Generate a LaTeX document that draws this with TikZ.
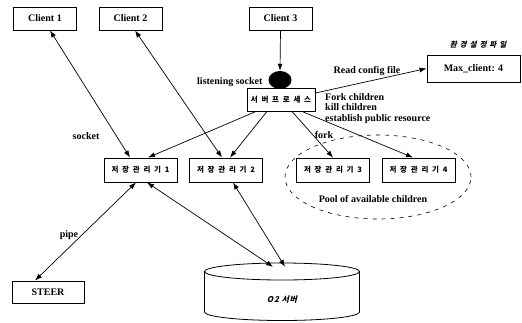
\documentclass[tikz,border=0pt]{standalone}
\usepackage{fontspec}
\setmainfont{Liberation Serif}
\newfontfamily\krfont{Noto Sans CJK KR}[LetterSpace=50]
\newfontfamily\krslant{Noto Sans CJK KR}[LetterSpace=40,FakeSlant=0.25]
\newfontfamily\krtight{Noto Sans CJK KR}[LetterSpace=10,FakeSlant=0.25]
\usetikzlibrary{arrows.meta,shapes.geometric}

\tikzset{
  box/.style={draw, line width=0.9pt, inner sep=0pt},
  client/.style={box, minimum width=63pt, minimum height=23pt},
  mgr/.style={box, minimum width=73pt, minimum height=24pt, font=\krfont\bfseries\fontsize{7.5}{8}\selectfont},
  link/.style={line width=0.7pt}
}

\begin{document}
\begin{tikzpicture}[x=1pt, y=-1pt, >={Latex[length=7pt,width=5pt]}, font=\bfseries\fontsize{10}{10.5}\selectfont]
        \useasboundingbox (0,0) rectangle (522,322);

        \node[client] (client1) at (45,18.5) {Client 1};
        \node[client] (client2) at (130.5,18.5) {Client 2};
        \node[client] (client3) at (280.5,18.5) {Client 3};

        \node[box, minimum width=68pt, minimum height=23pt, font=\krfont\bfseries\fontsize{7.5}{8}\selectfont] (server) at (281,99.5) {서버프로세스};
        \node[fill=black, ellipse, minimum width=23pt, minimum height=18pt, inner sep=0pt] (socket) at (280,80) {};

        \node[box, minimum width=93pt, minimum height=27pt] (maxclient) at (473.5,68.5) {Max\_client: 4};
        \node[font=\krslant\bfseries\fontsize{7.5}{8}\selectfont] (cfgfile) at (478,45) {환경설정파일};

        \node[mgr] (mgr1) at (140.5,170) {저장관리기1};
        \node[mgr] (mgr2) at (226,170) {저장관리기2};
        \node[mgr] (mgr3) at (333,170) {저장관리기3};
        \node[mgr] (mgr4) at (418.5,170) {저장관리기4};

        \node[box, minimum width=72pt, minimum height=22pt] (steer) at (48,292) {STEER};

        % O2 server drum
        \node[minimum width=155pt, minimum height=58pt, inner sep=0pt] (o2) at (282,292) {};
        \draw[line width=0.8pt] (282,271.5) ellipse (77.5pt and 8.5pt);
        \draw[line width=0.8pt] (204.5,271.5) -- (204.5,312) arc[start angle=180, end angle=360, x radius=77.5pt, y radius=8.5pt] -- (359.5,271.5);
        \node[font=\krtight\bfseries\fontsize{8}{9}\selectfont] (o2label) at (282,300) {O2 서버};

        \draw[dashed, dash pattern=on 4pt off 5pt, line width=0.6pt] (378,177) ellipse (93pt and 42pt);

        % labels
        \node[anchor=east] (lsock) at (266,82) {listening socket};
        \node (readcfg) at (367,71) {Read config file};
        \node[anchor=north west, align=left, inner sep=0pt] (tasks) at (325,93) {Fork children\\kill children\\establish public resource};
        \node (fork) at (324,135) {fork};
        \node (socklabel) at (86,136) {socket};
        \node (pipe) at (69,235) {pipe};
        \node (pool) at (373,199) {Pool of available children};

        % connectors
        \draw[link, ->] (client3.south) -- (socket.north);
        \draw[link, ->] ([yshift=6.5pt]server.east) -- (maxclient.west);

        \draw[link, <->] ([xshift=5pt]client1.south) -- ([xshift=-10.5pt]mgr1.north);
        \draw[link, <->] ([xshift=4.5pt]client2.south) -- ([xshift=-4pt]mgr2.north);

        \draw[link, ->] ([xshift=-25pt]server.south) -- ([xshift=7.5pt]mgr1.north);
        \draw[link, ->] ([xshift=-14pt]server.south) -- ([xshift=4pt]mgr2.north);
        \draw[link, ->] ([xshift=11pt]server.south) -- (mgr3.north);
        \draw[link, ->] ([xshift=21pt]server.south) -- ([xshift=-5.5pt]mgr4.north);

        \draw[link, <->] ([xshift=-4.5pt]mgr1.south) -- ([xshift=-13pt]steer.north);
        \draw[link, <->] ([xshift=6.5pt]mgr1.south) -- ([xshift=-9pt,yshift=-4pt]o2.north);
        \draw[link, <->] ([xshift=7pt]mgr2.south) -- ([xshift=3pt,yshift=-4pt]o2.north);
    \end{tikzpicture}
\end{document}
